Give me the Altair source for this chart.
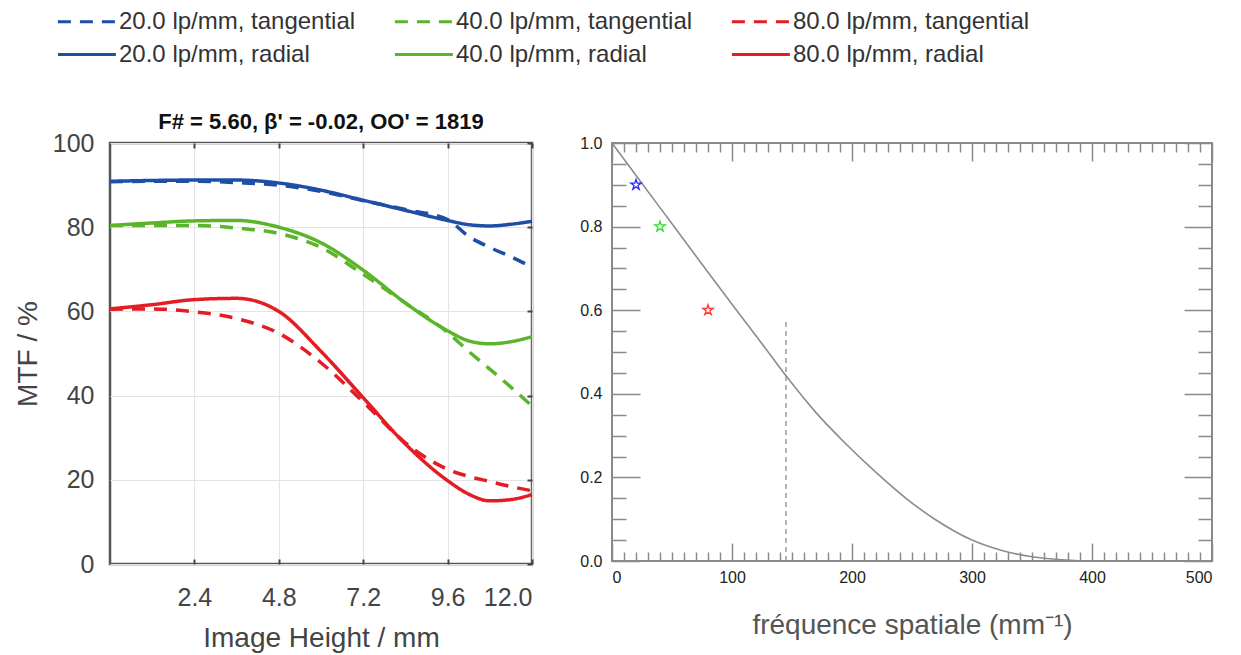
import altair as alt
import pandas as pd

# ---------------- data ----------------
heights = [0, 1.2, 2.4, 3.6, 4.8, 6.0, 7.2, 8.4, 9.6, 10.2, 10.8, 11.4, 12.0]
mtf20_tan = [90.8, 90.9, 90.9, 90.6, 90.0, 88.5, 86.3, 84.2, 81.8, 77.8, 75.2, 73.0, 70.5]
mtf40_tan = [80.4, 80.4, 80.4, 79.8, 78.5, 75.2, 68.8, 62.0, 55.0, 50.5, 46.3, 42.0, 37.5]
mtf80_tan = [60.5, 60.6, 59.9, 58.3, 54.8, 47.8, 38.5, 28.8, 22.5, 20.8, 19.6, 18.4, 17.4]
mtf20_rad = [90.9, 91.1, 91.2, 91.2, 90.5, 88.8, 86.4, 84.0, 81.6, 80.6, 80.3, 80.7, 81.4]
mtf40_rad = [80.4, 81.0, 81.5, 81.6, 80.0, 76.3, 69.8, 62.0, 55.4, 53.0, 52.3, 52.8, 54.0]
mtf80_rad = [60.6, 61.6, 62.8, 63.1, 60.0, 50.5, 39.5, 28.5, 19.8, 16.6, 15.0, 15.3, 16.5]

series_names = [
    "20.0 lp/mm, tangential", "40.0 lp/mm, tangential", "80.0 lp/mm, tangential",
    "20.0 lp/mm, radial", "40.0 lp/mm, radial", "80.0 lp/mm, radial",
]
series_kind = ["tangential"] * 3 + ["radial"] * 3
series_values = [mtf20_tan, mtf40_tan, mtf80_tan, mtf20_rad, mtf40_rad, mtf80_rad]
series_colors = ["#1f4ea6", "#5bb52b", "#e31d23", "#1f4ea6", "#5bb52b", "#e31d23"]
series_dash = [[13, 9], [13, 9], [13, 9], [1, 0], [1, 0], [1, 0]]

x_ticks_left = [2.4, 4.8, 7.2, 9.6, 12.0]
y_ticks_left = [0, 20, 40, 60, 80, 100]

freq = [0, 25, 50, 75, 100, 125, 145, 170, 195, 220, 245, 270, 300, 325, 350, 375, 400, 450, 500]
mtf_curve = [1.0, 0.903, 0.807, 0.71, 0.614, 0.52, 0.443, 0.355, 0.28, 0.212, 0.15, 0.098,
             0.05, 0.025, 0.01, 0.003, 0.0, 0.0, 0.0]
cutoff_freq = [145]
cutoff_bottom = [0.0]
cutoff_top = [0.58]
star_freq = [20, 40, 80]
star_mtf = [0.9, 0.8, 0.6]
star_colors = ["#2a2aff", "#33e033", "#ff3333"]

x_labels_right = [0, 100, 200, 300, 400, 500]
x_ticks_right = list(range(0, 501, 10))
y_labels_right = [0.0, 0.2, 0.4, 0.6, 0.8, 1.0]
y_ticks_right = [i * 0.05 for i in range(21)]

# ---------------- tables ----------------
rows = []
for name, kind, vals in zip(series_names, series_kind, series_values):
    for h, v in zip(heights, vals):
        rows.append({"h": h, "mtf": v, "series": name, "kind": kind})
df_left = pd.DataFrame(rows)
df_curve = pd.DataFrame({"f": freq, "m": mtf_curve})
df_cut = pd.DataFrame({"f": cutoff_freq, "y0": cutoff_bottom, "y1": cutoff_top})
df_star = pd.DataFrame({"f": star_freq, "m": star_mtf, "c": star_colors})

FONT = "Liberation Sans"
W1, H1 = 422, 421
W2, H2 = 600, 418

# ---------------- left chart ----------------
legend = alt.Legend(
    title=None, orient="none", legendX=-54, legendY=-135, direction="horizontal",
    columns=3, symbolType="M-1,0H4", symbolSize=538, symbolStrokeWidth=3,
    labelFontSize=24, labelFont=FONT, labelColor="#333", labelOffset=36,
    columnPadding=32, rowPadding=7, labelLimit=400, padding=0,
)
color_enc = alt.Color("series:N", scale=alt.Scale(domain=series_names, range=series_colors), legend=legend)
dash_enc = alt.StrokeDash("series:N", scale=alt.Scale(domain=series_names, range=series_dash), legend=legend)
xs1 = alt.Scale(domain=[0, 12], nice=False, zero=False)
ys1 = alt.Scale(domain=[0, 100], nice=False)

base_left = alt.Chart(df_left)

radial = base_left.transform_filter(alt.datum.kind == "radial").mark_line(
    strokeWidth=3.5, interpolate="monotone", strokeCap="butt"
).encode(
    x=alt.X("h:Q", scale=xs1, axis=alt.Axis(
        values=x_ticks_left, format=".1f", title="Image Height / mm", titleFontSize=28,
        titleFontWeight="normal", titleColor="#444", titleFont=FONT, titlePadding=14,
        labelFontSize=25, labelColor="#444", labelFont=FONT, labelPadding=21,
        ticks=False, domain=False, grid=True, gridColor="#e4e4e4", gridWidth=1.2)),
    y=alt.Y("mtf:Q", scale=ys1, axis=alt.Axis(
        values=y_ticks_left, title="MTF / %", titleFontSize=28, titleFontWeight="normal",
        titleColor="#444", titleFont=FONT, titlePadding=10,
        labelFontSize=25, labelColor="#444", labelFont=FONT, labelPadding=16,
        ticks=False, domain=False, grid=True, gridColor="#e4e4e4", gridWidth=1.2)),
    color=color_enc, strokeDash=dash_enc, detail="series:N",
)

tangential = base_left.transform_filter(alt.datum.kind == "tangential").mark_line(
    strokeWidth=3.5, interpolate="monotone", strokeCap="butt"
).encode(
    x=alt.X("h:Q", scale=xs1, axis=alt.Axis(
        orient="top", offset=-H1, values=x_ticks_left, labels=False, title=None,
        domain=False, grid=False, ticks=True, tickSize=5, tickColor="#444", tickWidth=2)),
    y=alt.Y("mtf:Q", scale=ys1, axis=alt.Axis(
        orient="left", offset=-W1, values=y_ticks_left, labels=False, title=None,
        domain=False, grid=False, ticks=True, tickSize=5, tickColor="#444", tickWidth=2)),
    color=color_enc, strokeDash=dash_enc, detail="series:N",
)

top_ticks = base_left.mark_line(opacity=0).encode(
    x=alt.X("h:Q", scale=xs1, axis=alt.Axis(
        orient="bottom", offset=-H1, values=x_ticks_left, labels=False, title=None,
        domain=False, grid=False, ticks=True, tickSize=5, tickColor="#444", tickWidth=2)),
    y=alt.Y("mtf:Q", scale=ys1, axis=alt.Axis(
        orient="right", offset=-W1, values=y_ticks_left, labels=False, title=None,
        domain=False, grid=False, ticks=False)),
    detail="series:N",
)

left = alt.layer(radial, tangential, top_ticks).resolve_axis(
    x="independent", y="independent"
).properties(
    width=W1, height=H1,
    title=alt.TitleParams("F# = 5.60, β' = -0.02, OO' = 1819", fontSize=22, fontWeight="bold",
                          color="#111", font=FONT, offset=-3, anchor="middle", frame="group"),
    view=alt.ViewBackground(stroke="#555", strokeWidth=2.5),
)

# ---------------- right chart ----------------
xs2 = alt.Scale(domain=[0, 500], nice=False, zero=False)
ys2 = alt.Scale(domain=[0, 1], nice=False)
major_x = {"condition": {"test": "abs(datum.value/100 - round(datum.value/100)) < 0.001", "value": 18}, "value": 9}
major_y = {"condition": {"test": "abs(datum.value*5 - round(datum.value*5)) < 0.001", "value": 28}, "value": 14}
TICK = dict(labels=False, title=None, domain=False, grid=False, ticks=True, tickColor="#8a8a8a", tickWidth=1.5)

curve = alt.Chart(df_curve).mark_line(color="#8c8c8c", strokeWidth=1.6, interpolate="monotone").encode(
    x=alt.X("f:Q", scale=xs2, axis=alt.Axis(
        values=x_labels_right, title="fréquence spatiale (mm⁻¹)", titleFontSize=28,
        titleFontWeight="normal", titleColor="#555", titleFont=FONT, titlePadding=26,
        labelFontSize=16, labelColor="#222", labelFont=FONT, labelPadding=8,
        ticks=False, domain=False, grid=False)),
    y=alt.Y("m:Q", scale=ys2, axis=alt.Axis(
        values=y_labels_right, format=".1f", title=None,
        labelFontSize=16, labelColor="#222", labelFont=FONT, labelPadding=10,
        ticks=False, domain=False, grid=False)),
)

cut = alt.Chart(df_cut).mark_rule(color="#8c8c8c", strokeWidth=1.3, strokeDash=[5, 4]).encode(
    x=alt.X("f:Q", scale=xs2, axis=alt.Axis(orient="top", offset=-H2, values=x_ticks_right, tickSize=major_x, **TICK)),
    y=alt.Y("y0:Q", scale=ys2, axis=alt.Axis(orient="right", offset=-W2, values=y_ticks_right, tickSize=major_y, **TICK)),
    y2="y1:Q",
)

STAR = ("M0,-1L0.223,-0.307L0.951,-0.309L0.361,0.117L0.588,0.809L0,0.38"
        "L-0.588,0.809L-0.361,0.117L-0.951,-0.309L-0.223,-0.307Z")
stars = alt.Chart(df_star).mark_point(shape=STAR, size=120, filled=False, strokeWidth=1.3, opacity=1).encode(
    x=alt.X("f:Q", scale=xs2, axis=alt.Axis(orient="bottom", offset=-H2, values=x_ticks_right, tickSize=major_x, **TICK)),
    y=alt.Y("m:Q", scale=ys2, axis=alt.Axis(orient="left", offset=-W2, values=y_ticks_right, tickSize=major_y, **TICK)),
    color=alt.Color("c:N", scale=None),
)

right = alt.layer(curve, cut, stars).resolve_axis(
    x="independent", y="independent"
).properties(
    width=W2, height=H2,
    view=alt.ViewBackground(stroke="#8a8a8a", strokeWidth=2),
)

chart = alt.hconcat(left, right, spacing=80, bounds="flush").configure(
    font=FONT, padding={"left": 5, "top": 0, "right": 5, "bottom": 0}
)

chart.save("out.html", embed_options={"renderer": "svg", "actions": False})
